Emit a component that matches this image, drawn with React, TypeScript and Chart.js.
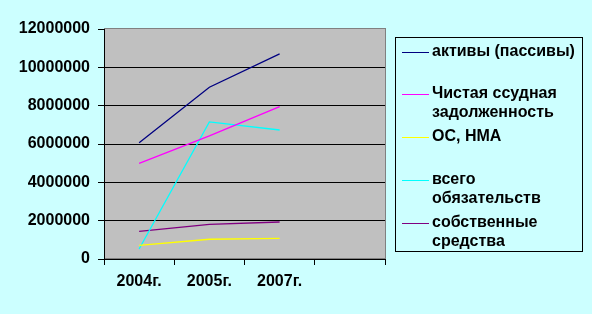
import React, { useEffect, useRef } from "react";
import { Chart, registerables } from "chart.js";

Chart.register(...registerables);

const categories = ["2004г.", "2005г.", "2007г.", ""];
const aktivy = [6070000, 8960000, 10700000];
const ssudnaya = [4990000, 6420000, 7950000];
const osNma = [710000, 1030000, 1080000];
const obyazatelstva = [520000, 7150000, 6730000];
const sobstvennye = [1440000, 1810000, 1930000];

const seriesNames = [
  ["активы (пассивы)"],
  ["Чистая ссудная", "задолженность"],
  ["ОС, НМА"],
  ["всего", "обязательств"],
  ["собственные", "средства"],
];
const seriesColors = ["#000080", "#FF00FF", "#FFFF00", "#00FFFF", "#800080"];
const seriesData = [aktivy, ssudnaya, osNma, obyazatelstva, sobstvennye];

const FONT = "Arial, 'Liberation Sans', sans-serif";

export default function App() {
  const ref = useRef<HTMLCanvasElement>(null);
  useEffect(() => {
    const canvas = ref.current;
    if (!canvas) return;
    const bgPlugin = {
      id: "bgPlugin",
      beforeDraw(chart: any) {
        const { ctx, chartArea } = chart;
        ctx.save();
        ctx.fillStyle = "#CCFFFF";
        ctx.fillRect(0, 0, chart.width, chart.height);
        ctx.fillStyle = "#C0C0C0";
        ctx.fillRect(chartArea.left, chartArea.top, chartArea.right - chartArea.left, chartArea.bottom - chartArea.top);
        ctx.strokeStyle = "#808080";
        ctx.lineWidth = 1;
        ctx.strokeRect(chartArea.left + 0.5, chartArea.top - 0.5, chartArea.right - chartArea.left, chartArea.bottom - chartArea.top);
        ctx.restore();
      },
      afterDraw(chart: any) {
        const { ctx } = chart;
        ctx.save();
        const bx = 395, by = 37, bw = 187, bh = 214;
        ctx.strokeStyle = "#000000";
        ctx.lineWidth = 1;
        ctx.strokeRect(bx + 0.5, by + 0.5, bw, bh);
        ctx.font = "bold 16px " + FONT;
        ctx.textBaseline = "middle";
        ctx.fillStyle = "#000000";
        const starts = [52, 94, 137, 180, 223];
        seriesNames.forEach((lines, i) => {
          const y = starts[i];
          ctx.strokeStyle = seriesColors[i];
          ctx.lineWidth = 1;
          ctx.beginPath();
          ctx.moveTo(402, y + 0.5);
          ctx.lineTo(429, y + 0.5);
          ctx.stroke();
          ctx.fillStyle = "#000000";
          lines.forEach((t, j) => {
            ctx.fillText(t, 432, y + j * 19);
          });
        });
        ctx.restore();
      },
    };
    const chart = new Chart(canvas, {
      type: "line",
      data: {
        labels: categories,
        datasets: seriesData.map((d, i) => ({
          label: seriesNames[i].join(" "),
          data: d,
          borderColor: seriesColors[i],
          backgroundColor: seriesColors[i],
          borderWidth: 1.3,
          pointRadius: 0,
          tension: 0,
          fill: false,
        })),
      },
      options: {
        responsive: false,
        animation: false,
        layout: { padding: { left: 0, top: 29, right: 207, bottom: 0 } },
        plugins: { legend: { display: false }, tooltip: { enabled: false } },
        scales: {
          x: {
            offset: true,
            grid: {
              offset: true,
              drawOnChartArea: false,
              drawTicks: true,
              tickLength: 6,
              color: "#000000",
            },
            border: { display: true, color: "#000000", width: 1 },
            ticks: {
              color: "#000000",
              font: { family: FONT, size: 16, weight: "bold" },
              padding: 7,
              maxRotation: 0,
              autoSkip: false,
            },
            afterFit(scale: any) {
              scale.height = 55;
            },
          },
          y: {
            min: 0,
            max: 12000000,
            grid: {
              color: (c: any) => (c.tick && c.tick.value === 12000000 ? "rgba(0,0,0,0)" : "#000000"),
              tickColor: "#000000",
              tickLength: 6,
              lineWidth: 1,
            },
            border: { display: true, color: "#000000", width: 1 },
            ticks: {
              stepSize: 2000000,
              color: "#000000",
              padding: 8,
              font: { family: FONT, size: 16, weight: "bold" },
              callback: (v: any) => String(v),
            },
            afterFit(scale: any) {
              scale.width = 104;
            },
          },
        },
      },
      plugins: [bgPlugin],
    });
    return () => chart.destroy();
  }, []);
  return (
    <div style={{ position: "fixed", left: 0, top: 0, width: 592, height: 314, background: "#CCFFFF" }}>
      <canvas ref={ref} width={592} height={314} style={{ display: "block" }} />
    </div>
  );
}
